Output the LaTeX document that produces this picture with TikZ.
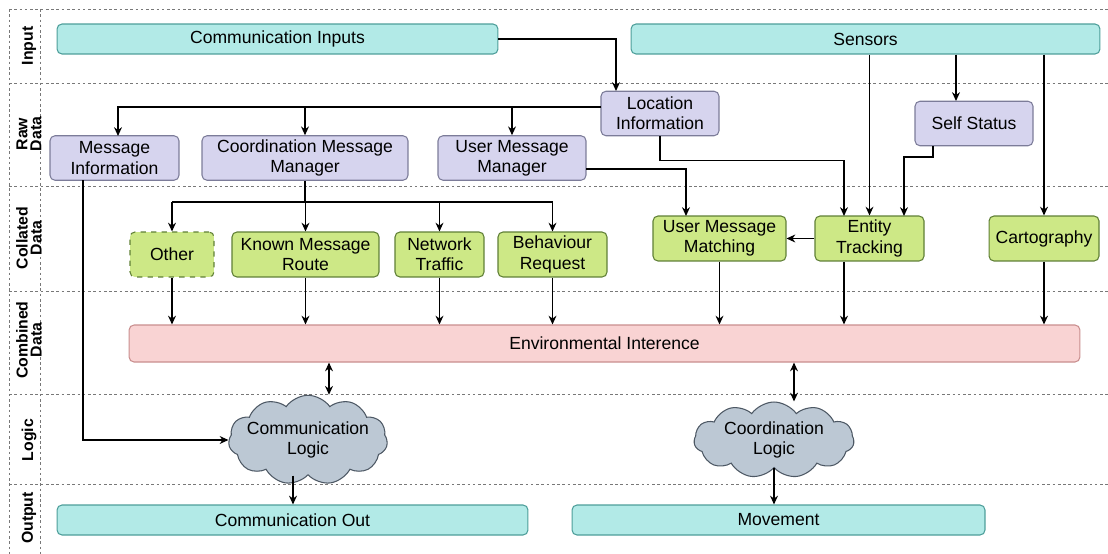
\documentclass[tikz,border=0pt]{standalone}
\usepackage{fontspec}
\setmainfont{Liberation Sans}
\usetikzlibrary{arrows.meta,shapes.symbols}
\definecolor{infill}{RGB}{178,234,231}
\definecolor{inline}{RGB}{77,158,154}
\definecolor{rawfill}{RGB}{214,212,238}
\definecolor{rawline}{RGB}{124,124,153}
\definecolor{colfill}{RGB}{205,232,134}
\definecolor{colline}{RGB}{95,127,53}
\definecolor{comfill}{RGB}{249,211,211}
\definecolor{comline}{RGB}{201,142,142}
\definecolor{logfill}{RGB}{188,200,212}
\definecolor{logline}{RGB}{77,88,100}
\definecolor{lanegrey}{RGB}{120,120,120}

\begin{document}
\begin{tikzpicture}[x=0.02cm,y=-0.02cm]
    \tikzset{%
      blk/.style={rectangle, rounded corners=2.8pt, draw, line width=0.6pt,
        align=center, inner sep=1pt, font=\fontsize{10}{11.5}\selectfont},
      inbox/.style={blk, draw=inline, fill=infill, minimum height=0.6cm},
      rawbox/.style={blk, draw=rawline, fill=rawfill, minimum height=0.89cm},
      colbox/.style={blk, draw=colline, fill=colfill, minimum height=0.9cm},
      combox/.style={blk, draw=comline, fill=comfill, minimum height=0.74cm},
      logic/.style={cloud, cloud puffs=11, cloud puff arc=110, aspect=2,
        draw=logline, fill=logfill, line width=0.6pt, align=center,
        inner xsep=-6pt, inner ysep=-2pt, font=\fontsize{10}{11.5}\selectfont},
      arr/.style={-{Stealth[length=5pt,width=4.5pt]}, line width=0.75pt},
      darr/.style={{Stealth[length=5pt,width=4.5pt]}-{Stealth[length=5pt,width=4.5pt]},
        line width=0.75pt},
      lane/.style={lanegrey, line width=0.5pt, dash pattern=on 1.5pt off 1.5pt},
      lbl/.style={rotate=90, align=center, inner sep=0pt,
        font=\bfseries\fontsize{9}{8}\selectfont},
    }
    \useasboundingbox (0,0) rectangle (1108,554);

    % lanes
    \foreach \y in {9,83,186,291,394,484}
      \draw[lane] (9,\y) -- (1108,\y);
    \draw[lane] (9,9) -- (9,554);
    \draw[lane] (40,9) -- (40,554);

    \node[lbl] (Lin) at (29,46) {Input};
    \node[lbl] (Lraw) at (29,134) {Raw\\Data};
    \node[lbl] (Lcol) at (29,238) {Collated\\Data};
    \node[lbl] (Lcom) at (29,340) {Combined\\Data};
    \node[lbl] (Llog) at (29,440) {Logic};
    \node[lbl] (Lout) at (29,518) {Output};

    % input
    \node[inbox, minimum width=8.82cm] (CI) at (277.5,39) {Communication Inputs};
    \node[inbox, minimum width=9.38cm] (SEN) at (865.5,39) {Sensors};

    % raw data
    \node[rawbox, minimum width=2.36cm] (LOC) at (660,113.5) {Location\\Information};
    \node[rawbox, minimum width=2.36cm] (SS) at (974,123.5) {Self Status};
    \node[rawbox, minimum width=2.58cm] (MI) at (114.5,158) {Message\\Information};
    \node[rawbox, minimum width=4.12cm] (CMM) at (305,158) {Coordination Message\\Manager};
    \node[rawbox, minimum width=2.96cm] (UMM) at (512,158) {User Message\\Manager};

    % collated data
    \node[colbox, dashed, minimum width=1.68cm] (OTH) at (172,254.5) {Other};
    \node[colbox, minimum width=2.94cm] (KMR) at (305.5,254.5) {Known Message\\Route};
    \node[colbox, minimum width=1.78cm] (NT) at (439.5,254.5) {Network\\Traffic};
    \node[colbox, minimum width=2.18cm] (BR) at (552.5,254.5) {Behaviour\\Request};
    \node[colbox, minimum width=2.66cm] (UMT) at (719.5,238.5) {User Message\\Matching};
    \node[colbox, minimum width=2.18cm] (ET) at (869.5,238.5) {Entity\\Tracking};
    \node[colbox, minimum width=2.2cm] (CAR) at (1044,238.5) {Cartography};

    % combined data
    \node[combox, minimum width=19.02cm] (EI) at (604.5,343.5) {Environmental Interence};

    % logic
    \node[logic, minimum width=3.18cm, minimum height=1.54cm] (CL) at (308,440) {Communication\\Logic};
    \node[logic, minimum width=3.2cm, minimum height=1.52cm] (CDL) at (774,440) {Coordination\\Logic};

    % output
    \node[inbox, minimum width=9.42cm] (CO) at (292.5,520) {Communication Out};
    \node[inbox, minimum width=8.26cm] (MOV) at (778.5,520) {Movement};

    \coordinate (locin) at (616,91);
    \coordinate (locw) at (601,107);
    \coordinate (mitop) at (118,136);
    \coordinate (etA) at (844,216);
    \coordinate (etB) at (904,216);
    \coordinate (ssin) at (956,101);
    \coordinate (ssout) at (933,146);
    \coordinate (ummout) at (586,169);
    \coordinate (umtin) at (686,216);
    \coordinate (cbr) at (305,202);
    \coordinate (miout) at (83,180);
    \coordinate (clx) at (329,0);
    \coordinate (cdx) at (794,0);
    \coordinate (clout) at (293,0);

    \draw[arr] (CI.east) -| (locin);
    \draw[arr] (locw) -| (mitop);
    \draw[arr] (locw -| CMM) -- (CMM);
    \draw[arr] (locw -| UMM) -- (UMM);
    \draw[arr] (LOC.south) -- ++(0,24) -| (etA);
    \draw[arr] (SEN.south -| ssin) -- (ssin);
    \draw[arr] (SEN.south -| ET) -- (ET);
    \draw[arr] (SEN.south -| CAR) -- (CAR);
    \draw[arr] (ssout) -- ++(0,11) -| (etB);
    \draw[arr] (ummout) -| (umtin);
    \draw[arr] (ET) -- (UMT);

    \draw[line width=0.75pt] (CMM.south) -- (cbr);
    \draw[line width=0.75pt] (cbr -| OTH) -- (cbr -| BR);
    \foreach \n in {OTH,KMR,NT,BR}
      \draw[arr] (cbr -| \n) -- (\n);
    \foreach \n in {OTH,KMR,NT,BR,UMT,CAR}
      \draw[arr] (\n) -- (\n |- EI.north);
    \draw[arr] (ET.south -| etA) -- (EI.north -| etA);

    \draw[darr] (EI.south -| clx) -- (CL.north -| clx);
    \draw[darr] (EI.south -| cdx) -- (CDL.north -| cdx);
    \draw[arr] (miout) |- (CL);
    \draw[arr] (CL.south -| clout) -- (CO.north -| clout);
    \draw[arr] (CDL.south) -- (CDL.south |- MOV.north);
\end{tikzpicture}
\end{document}
